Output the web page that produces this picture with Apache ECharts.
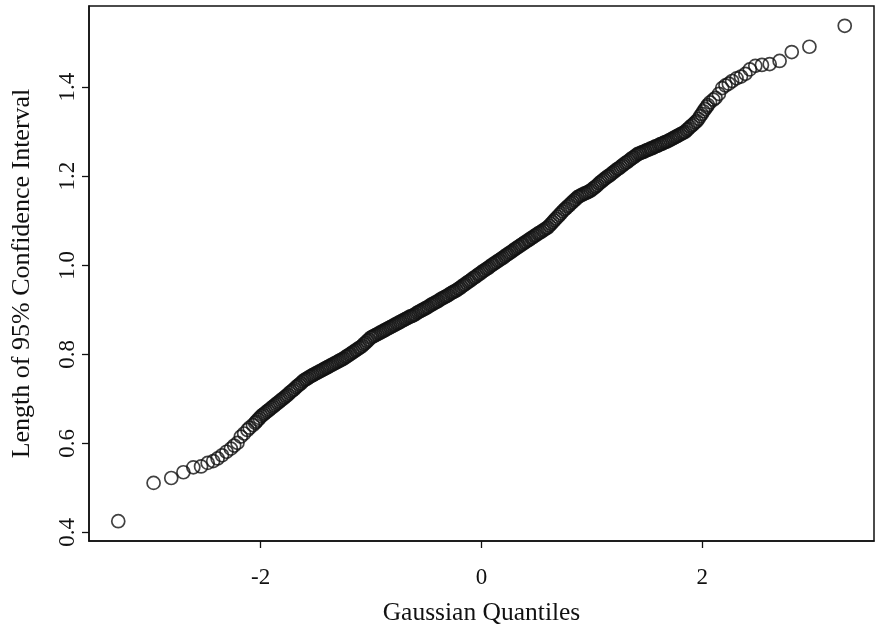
<!DOCTYPE html>
<html>
<head>
<meta charset="utf-8">
<script src="https://cdn.jsdelivr.net/npm/echarts@6/dist/echarts.min.js"></script>
<style>
  html, body { margin: 0; padding: 0; background: #fff; }
  #chart { width: 879px; height: 624px; }
</style>
</head>
<body>
<div id="chart"></div>
<script>
// Normal Q-Q plot of the 95% confidence interval lengths.
// Lower tail: sample points below the dense band.
const lowerX = [-3.29, -2.97, -2.81, -2.70, -2.61, -2.54, -2.48, -2.43, -2.39, -2.35,
                -2.31, -2.27, -2.24, -2.21, -2.18, -2.15, -2.12, -2.10, -2.07, -2.05];
const lowerY = [0.425, 0.511, 0.522, 0.535, 0.546, 0.548, 0.556, 0.560, 0.566, 0.573,
                0.581, 0.588, 0.595, 0.601, 0.615, 0.622, 0.630, 0.635, 0.641, 0.646];

// Central band of the quantile plot, where the circles overlap.
const bandX = [
  -2.040, -2.025, -2.010, -1.995, -1.980, -1.965, -1.950, -1.935, -1.920, -1.905,
  -1.890, -1.875, -1.860, -1.845, -1.830, -1.815, -1.800, -1.785, -1.770, -1.755,
  -1.740, -1.725, -1.710, -1.695, -1.680, -1.665, -1.650, -1.635, -1.620, -1.605,
  -1.590, -1.575, -1.560, -1.545, -1.530, -1.515, -1.500, -1.485, -1.470, -1.455,
  -1.440, -1.425, -1.410, -1.395, -1.380, -1.365, -1.350, -1.335, -1.320, -1.305,
  -1.290, -1.275, -1.260, -1.245, -1.230, -1.215, -1.200, -1.185, -1.170, -1.155,
  -1.140, -1.125, -1.110, -1.095, -1.080, -1.065, -1.050, -1.035, -1.020, -1.005,
  -0.990, -0.975, -0.960, -0.945, -0.930, -0.915, -0.900, -0.885, -0.870, -0.855,
  -0.840, -0.825, -0.810, -0.795, -0.780, -0.765, -0.750, -0.735, -0.720, -0.705,
  -0.690, -0.675, -0.660, -0.645, -0.630, -0.615, -0.600, -0.585, -0.570, -0.555,
  -0.540, -0.525, -0.510, -0.495, -0.480, -0.465, -0.450, -0.435, -0.420, -0.405,
  -0.390, -0.375, -0.360, -0.345, -0.330, -0.315, -0.300, -0.285, -0.270, -0.255,
  -0.240, -0.225, -0.210, -0.195, -0.180, -0.165, -0.150, -0.135, -0.120, -0.105,
  -0.090, -0.075, -0.060, -0.045, -0.030, -0.015, 0.000, 0.015, 0.030, 0.045,
  0.060, 0.075, 0.090, 0.105, 0.120, 0.135, 0.150, 0.165, 0.180, 0.195,
  0.210, 0.225, 0.240, 0.255, 0.270, 0.285, 0.300, 0.315, 0.330, 0.345,
  0.360, 0.375, 0.390, 0.405, 0.420, 0.435, 0.450, 0.465, 0.480, 0.495,
  0.510, 0.525, 0.540, 0.555, 0.570, 0.585, 0.600, 0.615, 0.630, 0.645,
  0.660, 0.675, 0.690, 0.705, 0.720, 0.735, 0.750, 0.765, 0.780, 0.795,
  0.810, 0.825, 0.840, 0.855, 0.870, 0.885, 0.900, 0.915, 0.930, 0.945,
  0.960, 0.975, 0.990, 1.005, 1.020, 1.035, 1.050, 1.065, 1.080, 1.095,
  1.110, 1.125, 1.140, 1.155, 1.170, 1.185, 1.200, 1.215, 1.230, 1.245,
  1.260, 1.275, 1.290, 1.305, 1.320, 1.335, 1.350, 1.365, 1.380, 1.395,
  1.410, 1.425, 1.440, 1.455, 1.470, 1.485, 1.500, 1.515, 1.530, 1.545,
  1.560, 1.575, 1.590, 1.605, 1.620, 1.635, 1.650, 1.665, 1.680, 1.695,
  1.710, 1.725, 1.740, 1.755, 1.770, 1.785, 1.800, 1.815, 1.830, 1.845,
  1.860, 1.875, 1.890, 1.905, 1.920, 1.935, 1.950, 1.965, 1.980, 1.995,
  2.010, 2.025, 2.040
];
const bandY = [
  0.649, 0.653, 0.657, 0.661, 0.664, 0.667, 0.670, 0.673, 0.676, 0.679,
  0.682, 0.685, 0.688, 0.691, 0.694, 0.697, 0.700, 0.703, 0.706, 0.709,
  0.713, 0.716, 0.719, 0.722, 0.726, 0.729, 0.732, 0.735, 0.739, 0.742,
  0.744, 0.746, 0.749, 0.751, 0.753, 0.755, 0.757, 0.759, 0.761, 0.763,
  0.765, 0.767, 0.769, 0.771, 0.773, 0.775, 0.777, 0.779, 0.781, 0.783,
  0.785, 0.787, 0.789, 0.791, 0.794, 0.796, 0.799, 0.801, 0.804, 0.806,
  0.809, 0.811, 0.814, 0.816, 0.819, 0.823, 0.826, 0.830, 0.833, 0.837,
  0.839, 0.841, 0.843, 0.845, 0.847, 0.849, 0.851, 0.853, 0.855, 0.857,
  0.859, 0.861, 0.863, 0.865, 0.867, 0.869, 0.871, 0.873, 0.875, 0.877,
  0.879, 0.881, 0.883, 0.885, 0.886, 0.888, 0.890, 0.893, 0.895, 0.897,
  0.899, 0.901, 0.903, 0.905, 0.907, 0.910, 0.912, 0.914, 0.916, 0.918,
  0.920, 0.923, 0.925, 0.927, 0.929, 0.931, 0.933, 0.936, 0.938, 0.940,
  0.942, 0.944, 0.947, 0.949, 0.952, 0.955, 0.957, 0.960, 0.963, 0.965,
  0.968, 0.971, 0.973, 0.976, 0.979, 0.981, 0.984, 0.987, 0.989, 0.992,
  0.994, 0.997, 1.000, 1.002, 1.005, 1.007, 1.010, 1.012, 1.015, 1.017,
  1.020, 1.023, 1.025, 1.028, 1.030, 1.033, 1.036, 1.038, 1.041, 1.043,
  1.046, 1.048, 1.051, 1.053, 1.056, 1.058, 1.061, 1.063, 1.066, 1.068,
  1.071, 1.073, 1.075, 1.078, 1.080, 1.083, 1.085, 1.089, 1.093, 1.097,
  1.101, 1.105, 1.109, 1.113, 1.117, 1.121, 1.125, 1.128, 1.132, 1.135,
  1.139, 1.142, 1.146, 1.149, 1.153, 1.155, 1.157, 1.159, 1.161, 1.162,
  1.164, 1.166, 1.168, 1.171, 1.174, 1.177, 1.180, 1.184, 1.187, 1.190,
  1.193, 1.196, 1.199, 1.201, 1.204, 1.207, 1.210, 1.213, 1.216, 1.218,
  1.221, 1.224, 1.227, 1.230, 1.232, 1.235, 1.238, 1.241, 1.243, 1.246,
  1.249, 1.251, 1.252, 1.254, 1.255, 1.257, 1.259, 1.260, 1.262, 1.263,
  1.265, 1.267, 1.268, 1.270, 1.272, 1.273, 1.275, 1.277, 1.278, 1.280,
  1.282, 1.284, 1.286, 1.288, 1.290, 1.292, 1.294, 1.296, 1.298, 1.300,
  1.304, 1.307, 1.311, 1.314, 1.317, 1.321, 1.324, 1.329, 1.335, 1.340,
  1.346, 1.351, 1.356
];

// Upper tail: sample points above the dense band.
const upperX = [2.05, 2.07, 2.10, 2.12, 2.15, 2.18, 2.21, 2.24, 2.27, 2.31,
                2.35, 2.39, 2.43, 2.48, 2.54, 2.61, 2.70, 2.81, 2.97, 3.29];
const upperY = [1.360, 1.366, 1.372, 1.376, 1.385, 1.398, 1.404, 1.408, 1.414, 1.420,
                1.424, 1.430, 1.440, 1.448, 1.450, 1.452, 1.459, 1.479, 1.491, 1.538];

// Axis ticks and titles
const xTicks = [-2, 0, 2];
const yTicks = [0.4, 0.6, 0.8, 1.0, 1.2, 1.4];
const xTitle = 'Gaussian Quantiles';
const yTitle = 'Length of 95% Confidence Interval';

const points = [];
[[lowerX, lowerY], [bandX, bandY], [upperX, upperY]].forEach(([xs, ys]) => {
  xs.forEach((x, i) => points.push([x, ys[i]]));
});

const ink = '#111';
const serif = '"Liberation Serif", "DejaVu Serif", serif';

const chart = echarts.init(document.getElementById('chart'), null, { renderer: 'canvas' });
chart.setOption({
  animation: false,
  backgroundColor: '#fff',
  grid: {
    left: 89, right: 5, top: 6, bottom: 83,
    outerBoundsMode: 'none',
    containLabel: false,
    show: true, borderColor: ink, borderWidth: 1.5, backgroundColor: 'transparent'
  },
  xAxis: {
    type: 'value',
    min: -3.555, max: 3.555,
    name: xTitle,
    nameLocation: 'middle',
    nameGap: 59,
    nameTextStyle: { fontFamily: serif, fontSize: 25.5, color: ink },
    axisLine: { show: true, onZero: false, lineStyle: { color: ink, width: 1.5 } },
    axisTick: { show: true, inside: false, length: 7, customValues: xTicks, lineStyle: { color: ink, width: 1.3 } },
    axisLabel: { customValues: xTicks, margin: 25, fontFamily: serif, fontSize: 23, color: ink,
                 formatter: v => String(v) },
    splitLine: { show: false }
  },
  yAxis: {
    type: 'value',
    min: 0.3805, max: 1.5825,
    name: yTitle,
    nameLocation: 'middle',
    nameGap: 54,
    nameRotate: 90,
    nameTextStyle: { fontFamily: serif, fontSize: 26, color: ink },
    axisLine: { show: true, onZero: false, lineStyle: { color: ink, width: 1.5 } },
    axisTick: { show: true, inside: false, length: 7, customValues: yTicks, lineStyle: { color: ink, width: 1.3 } },
    axisLabel: { customValues: yTicks, margin: 10, rotate: 90, fontFamily: serif, fontSize: 23, color: ink,
                 formatter: v => v.toFixed(1) },
    splitLine: { show: false }
  },
  series: [{
    type: 'scatter',
    data: points,
    symbol: 'circle',
    symbolSize: 13,
    itemStyle: { color: 'rgba(0,0,0,0)', borderColor: ink, borderWidth: 1.7 },
    emphasis: { disabled: true },
    silent: true
  }]
});
</script>
</body>
</html>
